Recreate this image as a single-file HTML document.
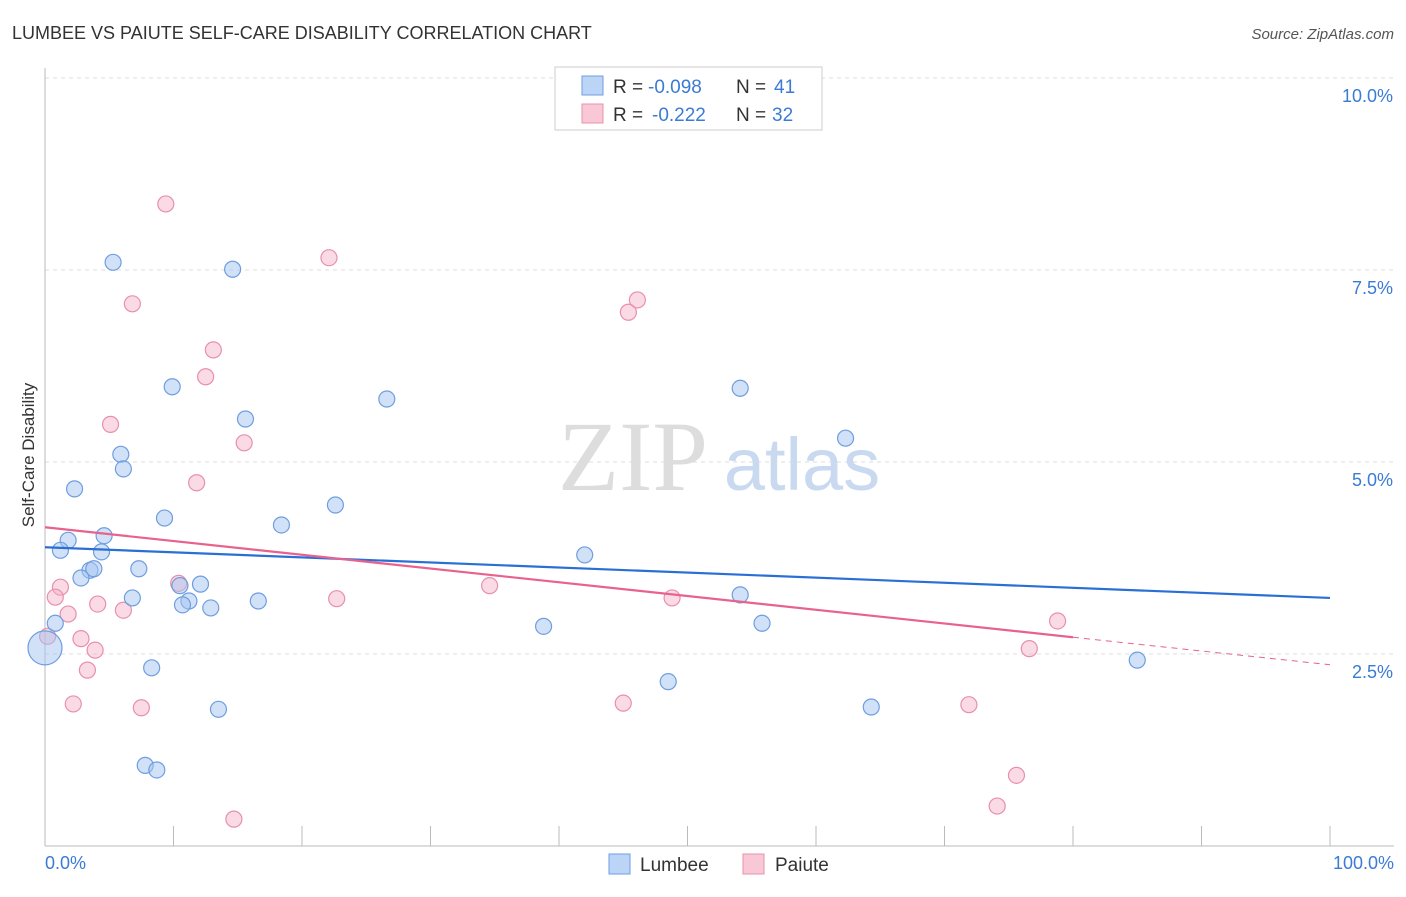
<!DOCTYPE html>
<html><head><meta charset="utf-8"><style>
body{margin:0;background:#fff;font-family:"Liberation Sans",sans-serif;}
svg text{font-family:"Liberation Sans",sans-serif;}
</style></head><body>
<svg id="chart" width="1406" height="892" xmlns="http://www.w3.org/2000/svg">
<text x="12" y="39" font-size="18" fill="#333">LUMBEE VS PAIUTE SELF-CARE DISABILITY CORRELATION CHART</text>
<text x="1394" y="39" font-size="15" fill="#555" text-anchor="end" font-style="italic">Source: ZipAtlas.com</text>
<g id="grid"></g>
<text x="633" y="490" font-size="100" fill="#ddd" text-anchor="middle" style="font-family:'Liberation Serif',serif">ZIP</text>
<text x="802" y="490" font-size="74" fill="#c9daf0" text-anchor="middle">atlas</text>
<g id="axes"></g>
<g id="pts"></g>
<g id="trends"></g>
<text transform="translate(34,455) rotate(-90)" font-size="17" fill="#333" text-anchor="middle">Self-Care Disability</text>
<text x="45" y="869" font-size="18" fill="#3a7bd5">0.0%</text>
<text x="1394" y="869" font-size="18" fill="#3a7bd5" text-anchor="end">100.0%</text>
<g>
<rect x="555" y="67" width="267" height="63" fill="#fff" stroke="#ccc"/>
<rect x="582" y="76" width="21" height="19" fill="#bcd4f5" stroke="#6e9ee0"/>
<rect x="582" y="104" width="21" height="19" fill="#f9c8d6" stroke="#e890ab"/>
<text x="613" y="93" font-size="19" fill="#333">R =</text>
<text x="648" y="93" font-size="19" fill="#3a7bd5">-0.098</text>
<text x="736" y="93" font-size="19" fill="#333">N =</text>
<text x="774" y="93" font-size="19" fill="#3a7bd5">41</text>
<text x="613" y="121" font-size="19" fill="#333">R =</text>
<text x="652" y="121" font-size="19" fill="#3a7bd5">-0.222</text>
<text x="736" y="121" font-size="19" fill="#333">N =</text>
<text x="772" y="121" font-size="19" fill="#3a7bd5">32</text>
</g>
<g>
<rect x="609" y="854" width="21" height="20" fill="#bcd4f5" stroke="#6e9ee0"/>
<text x="640" y="871" font-size="19" fill="#333">Lumbee</text>
<rect x="743" y="854" width="21" height="20" fill="#f9c8d6" stroke="#e890ab"/>
<text x="775" y="871" font-size="19" fill="#333">Paiute</text>
</g>
</svg>
<script>
const yTicks=[2.5,5.0,7.5,10.0];
const lumbeeX=[5.3,14.6,9.9,26.6,54.1,15.6,62.3,5.9,6.1,2.3,9.3,22.6,18.4,1.8,4.6,1.2,4.4,42.0,3.5,3.8,7.3,2.8,12.1,10.5,6.8,11.2,10.7,12.9,16.6,54.1,0.8,38.8,55.8,8.3,48.5,13.5,64.3,85.0,7.8,8.7,0];
const lumbeeY=[7.60,7.51,5.98,5.82,5.96,5.56,5.31,5.10,4.91,4.65,4.27,4.44,4.18,3.98,4.04,3.85,3.83,3.79,3.59,3.61,3.61,3.49,3.41,3.39,3.23,3.19,3.14,3.10,3.19,3.27,2.90,2.86,2.90,2.32,2.14,1.78,1.81,2.42,1.05,0.99,2.58];
const paiuteX=[9.4,22.1,6.8,46.1,45.4,13.1,12.5,5.1,15.5,11.8,1.2,0.8,10.4,34.6,4.1,1.8,6.1,22.7,48.8,2.8,3.9,3.3,78.8,76.6,2.2,7.5,45.0,71.9,75.6,74.1,14.7,0.2];
const paiuteY=[8.36,7.66,7.06,7.11,6.95,6.46,6.11,5.49,5.25,4.73,3.37,3.24,3.42,3.39,3.15,3.02,3.07,3.22,3.23,2.70,2.55,2.29,2.93,2.57,1.85,1.80,1.86,1.84,0.92,0.52,0.35,2.73];
const lumbeeTrend=[3.89,3.23];
const paiuteTrend=[4.15,2.36];
const NS="http://www.w3.org/2000/svg";
const sx=v=>45+v/100*1285;
const sy=v=>846-v/2.5*192;
function mk(tag,attrs,parent){const e=document.createElementNS(NS,tag);for(const k in attrs)e.setAttribute(k,attrs[k]);parent.appendChild(e);return e;}
const grid=document.getElementById('grid'),axes=document.getElementById('axes'),pts=document.getElementById('pts'),tr=document.getElementById('trends');
yTicks.forEach(t=>{
 const l=mk('line',{x1:45,x2:1394,y1:sy(t),y2:sy(t),stroke:'#ddd','stroke-dasharray':'4,4'},grid);
 
 
 const tx=mk('text',{x:1393,y:sy(t)+24,'font-size':18,fill:'#3a7bd5','text-anchor':'end'},grid);
 tx.textContent=t.toFixed(1)+'%';
 
 
});
mk('line',{x1:45,x2:45,y1:68,y2:846,stroke:'#bbb'},axes);
mk('line',{x1:45,x2:1394,y1:846,y2:846,stroke:'#bbb'},axes);
for(let i=0;i<=10;i++){const t=mk('line',{x1:sx(i*10),x2:sx(i*10),y1:826,y2:846,stroke:'#bbb'},axes);
 
 }
function dots(xs,ys,fill,stroke,name){xs.forEach((x,i)=>{
 const big=(x===0&&name==='lumbee-point');
 const c=mk('circle',{cx:sx(x),cy:sy(ys[i]),r:big?17:8,fill:fill,stroke:stroke,'stroke-width':1.2},pts);
 
 });}
dots(paiuteX,paiuteY,'rgba(244,175,198,0.45)','#e890ab','paiute-point');
dots(lumbeeX,lumbeeY,'rgba(164,196,240,0.5)','#6e9ee0','lumbee-point');
const lt=mk('line',{x1:sx(0),y1:sy(lumbeeTrend[0]),x2:sx(100),y2:sy(lumbeeTrend[1]),stroke:'#2a6fd6','stroke-width':2.2},tr);


const pAt=x=>paiuteTrend[0]+(paiuteTrend[1]-paiuteTrend[0])*x/100;
const pt=mk('line',{x1:sx(0),y1:sy(pAt(0)),x2:sx(80),y2:sy(pAt(80)),stroke:'#e8628e','stroke-width':2.2},tr);


const pd=mk('line',{x1:sx(80),y1:sy(pAt(80)),x2:sx(100),y2:sy(pAt(100)),stroke:'#e8628e','stroke-width':1,'stroke-dasharray':'6,5'},tr);


</script>
</body></html>
